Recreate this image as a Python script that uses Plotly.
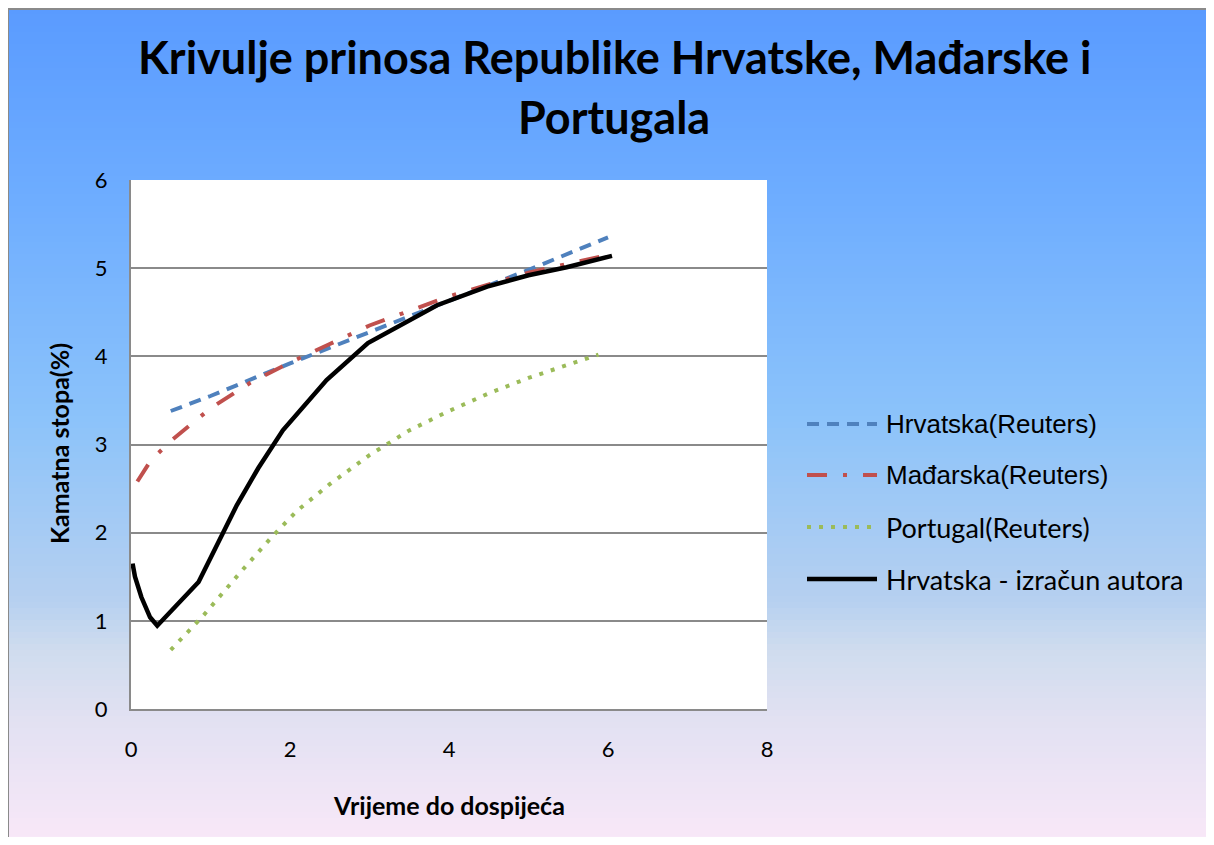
import plotly.graph_objects as go

# ---------------- data ----------------
hr_x = [0.5, 1, 2, 3, 4, 5, 6]
hr_y = [3.38, 3.55, 3.92, 4.28, 4.63, 4.98, 5.35]

hu_x = [0.08, 0.25, 0.5, 1, 1.5, 2, 2.5, 3, 4, 5, 6]
hu_y = [2.58, 2.82, 3.04, 3.41, 3.70, 3.93, 4.14, 4.35, 4.68, 4.95, 5.15]

pt_x = [0.5, 0.91, 1.39, 1.78, 2.09, 2.5, 3, 3.5, 4, 4.5, 5, 5.5, 5.88]
pt_y = [0.67, 1.06, 1.565, 1.96, 2.25, 2.55, 2.88, 3.16, 3.38, 3.58, 3.755, 3.91, 4.02]

au_x = [0.02, 0.05, 0.13, 0.24, 0.33, 0.85, 1.33, 1.6, 1.91, 2.46, 2.98, 3.5, 3.85, 4.48, 5.0, 5.48, 6.05]
au_y = [1.65, 1.50, 1.27, 1.04, 0.945, 1.44, 2.31, 2.73, 3.16, 3.73, 4.15, 4.40, 4.58, 4.79, 4.92, 5.01, 5.14]

series_names = ["Hrvatska(Reuters)", "Mađarska(Reuters)", "Portugal(Reuters)", "Hrvatska - izračun autora"]
x_ticks = [0, 2, 4, 6, 8]
y_ticks = [0, 1, 2, 3, 4, 5, 6]

title_lines = ["Krivulje prinosa Republike Hrvatske, Mađarske i", "Portugala"]
x_title = "Vrijeme do dospijeća"
y_title = "Kamatna stopa(%)"

# ---------------- layout geometry (figure pixel coords) ----------------
W, H = 1198, 829
L, R, T, B = 123, 759, 172, 701
pw, ph = R - L, B - T


def px(xp):
    return (xp - L) / pw


def py(yp):
    return (B - yp) / ph


colors = ["#4F81BD", "#C0504D", "#9BBB59", "#000000"]
dashes = ["12px,8px", "20px,16px,4px,16px", "4px,8px", "solid"]
widths = [4, 4, 4, 4.5]
xs = [hr_x, hu_x, pt_x, au_x]
ys = [hr_y, hu_y, pt_y, au_y]

fig = go.Figure()
for i in range(4):
    fig.add_trace(go.Scatter(
        x=xs[i], y=ys[i], mode="lines", name=series_names[i],
        line=dict(color=colors[i], width=widths[i], dash=dashes[i]),
        showlegend=False,
    ))

# ---------------- background gradient ----------------
stops = [(0, (90, 155, 255)), (192, (110, 173, 255)), (412, (140, 195, 250)),
         (592, (182, 208, 240)), (642, (207, 220, 238)), (712, (226, 225, 242)),
         (837, (249, 232, 248))]


def col_at(yp):
    for (y0, c0), (y1, c1) in zip(stops[:-1], stops[1:]):
        if y0 <= yp <= y1:
            t = (yp - y0) / (y1 - y0)
            return tuple(round(c0[k] + (c1[k] - c0[k]) * t) for k in range(3))
    return stops[-1][1]


shapes = []
step = 6
yp = 0
while yp < H:
    c = col_at(yp + step / 2)
    shapes.append(dict(type="rect", xref="paper", yref="paper", layer="below",
                       x0=px(0), x1=px(W + 5), y0=py(yp), y1=py(min(yp + step + 1, H + 5)),
                       fillcolor="rgb(%d,%d,%d)" % c, line=dict(width=0)))
    yp += step
# chart border (left and top edges)
shapes.append(dict(type="line", xref="paper", yref="paper", layer="below",
                   x0=px(0), x1=px(0), y0=py(0), y1=py(H + 5),
                   line=dict(color="#8a8a8a", width=2)))
shapes.append(dict(type="line", xref="paper", yref="paper", layer="below",
                   x0=px(0), x1=px(W + 5), y0=py(1), y1=py(1),
                   line=dict(color="#8a8a8a", width=2)))
# white plot area
shapes.append(dict(type="rect", xref="x", yref="y", layer="below",
                   x0=0, x1=8, y0=0, y1=6, fillcolor="white", line=dict(width=0)))

# ---------------- manual legend ----------------
leg_y = [416, 467, 519, 571]
leg_fonts = ["Liberation Sans, Arial", "Liberation Sans, Arial", "Lato", "Lato"]
leg_sizes = [26, 26, 27, 27]
annotations = []
for i in range(4):
    shapes.append(dict(type="line", xref="paper", yref="paper",
                       x0=px(799), x1=px(869), y0=py(leg_y[i]), y1=py(leg_y[i]),
                       line=dict(color=colors[i], width=widths[i], dash=dashes[i])))
    annotations.append(dict(xref="paper", yref="paper", x=px(876), y=py(leg_y[i]),
                            xanchor="left", yanchor="middle", showarrow=False,
                            text=series_names[i],
                            font=dict(family=leg_fonts[i], size=leg_sizes[i], color="black")))

# titles
annotations.append(dict(xref="paper", yref="paper", x=px(606), y=py(49), xanchor="center",
                        yanchor="middle", showarrow=False, text="<b>%s</b>" % title_lines[0],
                        font=dict(family="Lato", size=45, color="black")))
annotations.append(dict(xref="paper", yref="paper", x=px(606), y=py(109), xanchor="center",
                        yanchor="middle", showarrow=False, text="<b>%s</b>" % title_lines[1],
                        font=dict(family="Lato", size=45, color="black")))
annotations.append(dict(xref="paper", yref="paper", x=px(441), y=py(797), xanchor="center",
                        yanchor="middle", showarrow=False, text="<b>%s</b>" % x_title,
                        font=dict(family="Lato", size=25, color="black")))
annotations.append(dict(xref="paper", yref="paper", x=px(51), y=py(436), xanchor="center",
                        yanchor="middle", showarrow=False, text="<b>%s</b>" % y_title,
                        textangle=-90, font=dict(family="Lato", size=25, color="black")))

fig.update_layout(
    width=W, height=H,
    margin=dict(l=L, r=W - R, t=T, b=H - B, pad=0),
    paper_bgcolor="white", plot_bgcolor="rgba(0,0,0,0)",
    shapes=shapes, annotations=annotations,
    showlegend=False,
    font=dict(family="Lato", size=22, color="black"),
)
fig.update_xaxes(range=[0, 8], tickvals=x_ticks, ticktext=[str(v) for v in x_ticks],
                 showgrid=False, zeroline=False, showline=True, linecolor="#8a8a8a", linewidth=2,
                 ticks="outside", ticklen=20, tickcolor="rgba(0,0,0,0)",
                 tickfont=dict(family="Lato", size=22, color="black"))
fig.update_yaxes(range=[0, 6], tickvals=y_ticks, ticktext=[str(v) for v in y_ticks],
                 showgrid=True, gridcolor="#8a8a8a", gridwidth=2, zeroline=False,
                 showline=True, linecolor="#8a8a8a", linewidth=2,
                 ticks="outside", ticklen=17, tickcolor="rgba(0,0,0,0)",
                 tickfont=dict(family="Lato", size=22, color="black"))

fig.write_html("out.html")
